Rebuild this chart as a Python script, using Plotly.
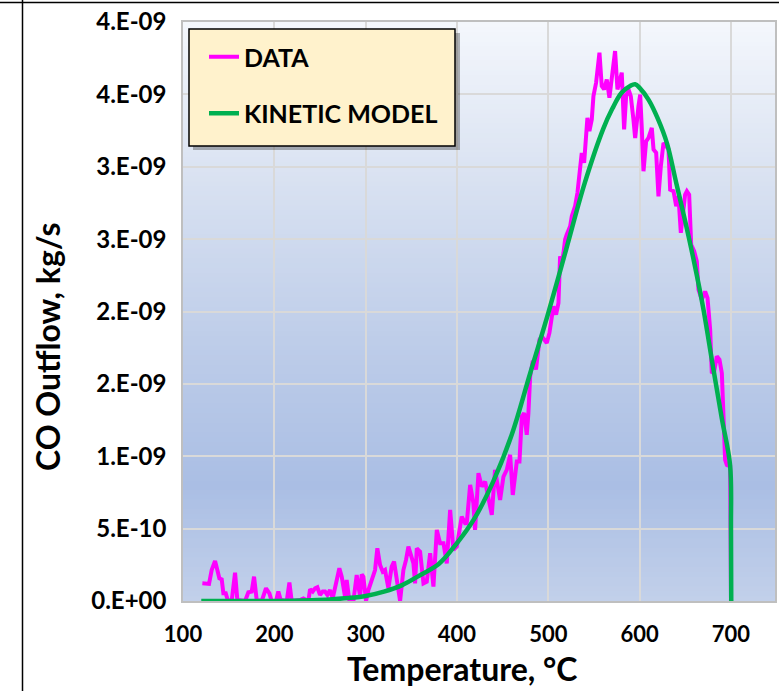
import numpy as np
import plotly.graph_objects as go

# Measured CO outflow (kg/s, stored as multiples of 1e-9) vs temperature (°C)
data_temp = [
    121.2, 126.0, 128.5, 131.4, 135.1, 137.6, 139.8, 142.4, 144.2, 146.8,
    149.0, 153.3, 157.0, 159.5, 168.0, 171.6, 175.2, 177.8, 180.7, 186.2,
    190.9, 194.6, 197.1, 201.9, 204.4, 207.0, 213.6, 216.5, 219.0, 228.1,
    231.8, 237.3, 239.1, 242.0, 244.6, 247.1, 250.0, 253.0, 255.5, 258.1,
    261.0, 263.9, 268.3, 271.2, 273.8, 275.6, 277.4, 279.2, 282.2, 286.6,
    290.2, 293.9, 295.7, 297.5, 300.4, 303.0, 306.6, 310.3, 312.8, 315.8,
    318.7, 321.2, 324.9, 328.5, 331.1, 334.0, 337.7, 341.3, 344.2, 346.8,
    352.3, 354.1, 356.0, 359.6, 363.3, 366.9, 370.6, 374.2, 377.9, 381.5,
    385.2, 388.8, 392.5, 396.1, 399.8, 405.2, 408.9, 410.7, 414.4, 418.0,
    419.8, 423.5, 427.1, 430.8, 432.6, 438.1, 441.7, 443.6, 447.2, 450.9,
    454.5, 458.2, 461.1, 465.5, 468.4, 471.0, 473.5, 476.4, 478.2, 480.1,
    483.0, 486.5, 490.3, 492.8, 498.3, 501.2, 503.8, 505.6, 508.5, 511.1,
    512.9, 514.7, 516.6, 518.4, 520.2, 523.9, 525.7, 529.3, 531.9, 534.8,
    536.6, 539.2, 541.4, 542.8, 545.0, 547.6, 549.4, 552.3, 556.0, 558.5,
    561.1, 564.0, 566.9, 569.5, 573.1, 575.7, 578.6, 580.4, 583.0, 585.2,
    587.8, 590.3, 593.2, 595.1, 598.7, 600.6, 602.4, 604.2, 607.1, 609.7,
    613.3, 615.2, 618.1, 620.6, 623.2, 626.1, 629.0, 631.6, 633.4, 637.1,
    640.0, 642.5, 645.1, 647.3, 649.8, 651.7, 654.2, 656.4, 659.7, 662.6,
    664.4, 668.1, 671.7, 674.3, 677.2, 679.0, 681.6, 684.5, 687.4, 690.0,
    691.1, 693.6, 695.5, 699.1, 699.6, 700.0,
]
data_co_e9 = [
    0.122, 0.118, 0.118, 0.214, 0.277, 0.214, 0.157, 0.150, 0.053, 0.053,
    0.007, 0.000, 0.196, 0.007, 0.000, 0.060, 0.065, 0.168, 0.007, 0.000,
    0.088, 0.053, 0.000, 0.000, 0.065, 0.007, 0.000, 0.127, 0.000, 0.007,
    0.018, 0.000, 0.081, 0.065, 0.088, 0.095, 0.042, 0.065, 0.065, 0.042,
    0.076, 0.018, 0.145, 0.226, 0.168, 0.099, 0.030, 0.145, 0.000, 0.000,
    0.180, 0.030, 0.184, 0.168, 0.000, 0.076, 0.145, 0.214, 0.364, 0.249,
    0.203, 0.214, 0.088, 0.237, 0.272, 0.168, 0.000, 0.214, 0.284, 0.376,
    0.260, 0.122, 0.364, 0.341, 0.122, 0.134, 0.330, 0.099, 0.491, 0.399,
    0.399, 0.260, 0.629, 0.353, 0.376, 0.583, 0.537, 0.537, 0.802, 0.675,
    0.491, 0.883, 0.791, 0.825, 0.768, 0.595, 0.906, 0.837, 0.698, 0.860,
    0.906, 1.010, 0.733, 0.964, 0.964, 1.275, 1.298, 1.148, 1.298, 1.551,
    1.660, 1.600, 1.805, 1.829, 1.782, 1.852, 1.944, 2.036, 1.978, 2.059,
    2.382, 2.336, 2.405, 2.497, 2.532, 2.589, 2.658, 2.728, 2.820, 3.004,
    3.096, 3.027, 3.189, 3.338, 3.246, 3.327, 3.488, 3.580, 3.788, 3.557,
    3.534, 3.603, 3.477, 3.626, 3.799, 3.534, 3.626, 3.650, 3.258, 3.488,
    3.534, 3.488, 3.326, 3.199, 3.418, 3.499, 3.257, 2.969, 3.176, 3.199,
    3.269, 3.119, 3.096, 2.796, 3.004, 3.165, 3.142, 3.119, 2.842, 2.831,
    2.727, 2.796, 2.543, 2.658, 2.808, 2.831, 2.808, 2.462, 2.416, 2.347,
    2.151, 2.081, 2.139, 2.093, 1.874, 1.574, 1.586, 1.690, 1.667, 1.574,
    1.390, 0.975, 0.940, 0.930, 0.450, 0.000,
]

# Kinetic model prediction (kg/s, multiples of 1e-9)
model_temp = [
    120, 150, 180, 200, 220, 240, 260, 280, 300, 320, 340, 360, 380, 400,
    420, 440, 460, 480, 500, 520, 540, 560, 570, 580, 590, 595, 600, 610,
    620, 630, 640, 650, 660, 670, 680, 690, 699, 700, 700.3,
]
model_co_e9 = [
    0.0, 0.0, 0.0, 0.0, 0.002, 0.005, 0.010, 0.020, 0.035, 0.065, 0.110,
    0.180, 0.255, 0.400, 0.580, 0.830, 1.150, 1.570, 1.990, 2.440, 2.890,
    3.260, 3.400, 3.510, 3.560, 3.570, 3.545, 3.460, 3.330, 3.160, 2.890,
    2.620, 2.330, 2.010, 1.630, 1.260, 0.940, 0.500, 0.0,
]

y_tickvals = [0, 0.5e-9, 1.0e-9, 1.5e-9, 2.0e-9, 2.5e-9, 3.0e-9, 3.5e-9, 4.0e-9]
y_ticktext = ["0.E+00", "5.E-10", "1.E-09", "2.E-09", "2.E-09",
              "3.E-09", "3.E-09", "4.E-09", "4.E-09"]
x_tickvals = [100, 200, 300, 400, 500, 600, 700]

x_title = "Temperature, °C"
y_title = "CO Outflow, kg/s"

FONT = "Lato"
W, H = 779, 691
M_L, M_R, M_T, M_B = 183, 4, 22, 90
plot_w = W - M_L - M_R
plot_h = H - M_T - M_B


def px_x(px):
    return (px - M_L) / plot_w


def px_y(py):
    return (H - M_B - py) / plot_h


fig = go.Figure()

fig.add_trace(go.Scatter(
    x=data_temp, y=np.array(data_co_e9) * 1e-9, mode="lines", name="DATA",
    line=dict(color="#ff00ff", width=4), legendgroup="a",
))
fig.add_trace(go.Scatter(
    x=model_temp, y=np.array(model_co_e9) * 1e-9, mode="lines",
    name="KINETIC MODEL", line=dict(color="#00b050", width=4.5),
    line_shape="spline", legendgroup="b",
))

# vertical colour gradient of the plotting area, built from thin bands
stops = [
    (0.00, (194, 208, 234)),
    (0.20, (170, 190, 228)),
    (0.45, (190, 205, 233)),
    (0.72, (216, 225, 241)),
    (1.00, (244, 247, 252)),
]


def grad(t):
    for (t0, c0), (t1, c1) in zip(stops[:-1], stops[1:]):
        if t0 <= t <= t1:
            f = (t - t0) / (t1 - t0)
            return tuple(round(a + (b - a) * f) for a, b in zip(c0, c1))
    return stops[-1][1]


shapes = []
n_bands = 120
for i in range(n_bands):
    c = grad((i + 0.5) / n_bands)
    shapes.append(dict(
        type="rect", xref="x domain", yref="y domain", layer="below",
        x0=0, x1=1, y0=i / n_bands, y1=(i + 1) / n_bands + 0.002,
        fillcolor=f"rgb{c}", line=dict(width=0),
    ))

# legend panel with drop shadow
shapes.append(dict(
    type="rect", xref="paper", yref="paper", layer="above",
    x0=px_x(193), x1=px_x(460), y0=px_y(150), y1=px_y(33),
    fillcolor="rgba(0,0,0,0.28)", line=dict(width=0),
))
shapes.append(dict(
    type="rect", xref="paper", yref="paper", layer="above",
    x0=px_x(189), x1=px_x(455), y0=px_y(146), y1=px_y(29),
    fillcolor="#fff2cc", line=dict(color="black", width=1.5),
))

# frame lines around the figure cell
shapes.append(dict(
    type="line", xref="paper", yref="paper", layer="above",
    x0=px_x(22.5), x1=px_x(22.5), y0=px_y(H + 2), y1=px_y(-2),
    line=dict(color="black", width=1.5),
))
shapes.append(dict(
    type="line", xref="paper", yref="paper", layer="above",
    x0=px_x(-2), x1=px_x(W + 2), y0=px_y(2.5), y1=px_y(2.5),
    line=dict(color="black", width=1.5),
))

title_font = dict(family=FONT, size=32, weight="bold", color="black")
annotations = [
    dict(text=x_title, xref="paper", yref="paper", showarrow=False,
         x=px_x(462), y=px_y(668), xanchor="center", yanchor="middle",
         font=title_font),
    dict(text=y_title, xref="paper", yref="paper", showarrow=False,
         x=px_x(47), y=px_y(347), xanchor="center", yanchor="middle",
         textangle=-90, font=title_font),
]

fig.update_layout(
    width=W, height=H,
    margin=dict(l=M_L, r=M_R, t=M_T, b=M_B, autoexpand=False),
    paper_bgcolor="white", plot_bgcolor="white",
    font=dict(family=FONT, color="black"),
    shapes=shapes,
    annotations=annotations,
    showlegend=True,
    legend=dict(
        x=px_x(204), y=px_y(34), xanchor="left", yanchor="top",
        bgcolor="rgba(0,0,0,0)", borderwidth=0,
        font=dict(family=FONT, size=25, weight="bold", color="black"),
        tracegroupgap=21, traceorder="grouped",
    ),
)

fig.update_xaxes(
    range=[100, 100 + plot_w / 0.9133],
    tickvals=x_tickvals, ticks="",
    tickfont=dict(family=FONT, size=22, weight="bold", color="black"),
    ticklabelstandoff=13,
    showgrid=True, gridcolor="#d9d9d9", gridwidth=1.5,
    showline=True, linecolor="#bfbfbf", linewidth=1.5, mirror=True,
    zeroline=False,
)
fig.update_yaxes(
    range=[0, 4e-9],
    tickvals=y_tickvals, ticktext=y_ticktext, ticks="",
    tickfont=dict(family=FONT, size=24, weight="bold", color="black"),
    ticklabelstandoff=10,
    showgrid=True, gridcolor="#d9d9d9", gridwidth=1.5,
    showline=True, linecolor="#bfbfbf", linewidth=1.5, mirror=True,
    zeroline=False,
)

fig.write_html("out.html")
